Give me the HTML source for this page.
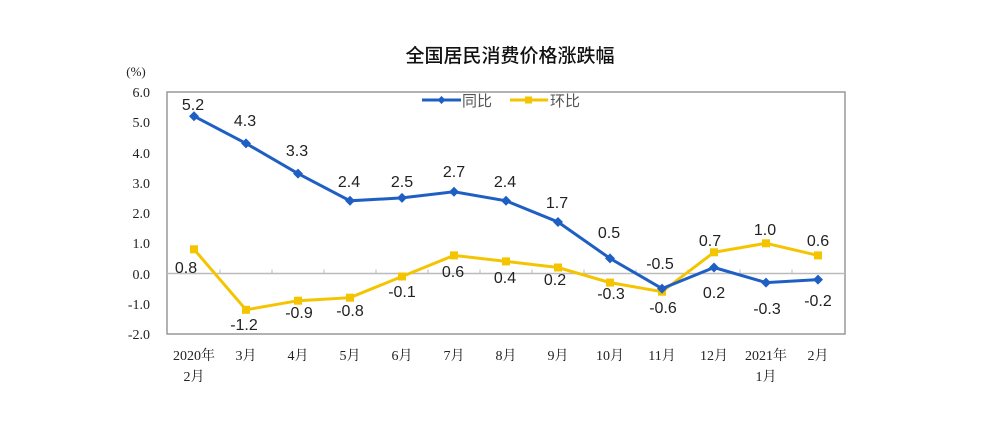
<!DOCTYPE html>
<html><head><meta charset="utf-8"><style>body{margin:0;background:#fff}</style></head><body>
<svg width="1000" height="433" xmlns="http://www.w3.org/2000/svg">
<text x="510" y="62" text-anchor="middle" font-family="Liberation Sans, Noto Sans CJK SC, sans-serif" font-size="19" font-weight="500" fill="#111">全国居民消费价格涨跌幅</text>
<text x="136" y="76" text-anchor="middle" font-family="Liberation Serif, Noto Serif CJK SC, serif" font-size="13" fill="#222">(%)</text>
<rect x="167" y="92" width="678" height="242" fill="none" stroke="#999" stroke-width="1.5"/>
<line x1="167" y1="273.5" x2="845" y2="273.5" stroke="#bbb" stroke-width="1.5"/>
<g stroke="#bbb" stroke-width="1"><line x1="220" y1="269.5" x2="220" y2="273.5"/><line x1="272" y1="269.5" x2="272" y2="273.5"/><line x1="324" y1="269.5" x2="324" y2="273.5"/><line x1="376" y1="269.5" x2="376" y2="273.5"/><line x1="428" y1="269.5" x2="428" y2="273.5"/><line x1="480" y1="269.5" x2="480" y2="273.5"/><line x1="532" y1="269.5" x2="532" y2="273.5"/><line x1="584" y1="269.5" x2="584" y2="273.5"/><line x1="636" y1="269.5" x2="636" y2="273.5"/><line x1="688" y1="269.5" x2="688" y2="273.5"/><line x1="740" y1="269.5" x2="740" y2="273.5"/><line x1="792" y1="269.5" x2="792" y2="273.5"/></g>
<g font-family="Liberation Serif, serif" font-size="14" fill="#222" text-anchor="end">
<text x="150" y="97">6.0</text><text x="150" y="127">5.0</text><text x="150" y="158">4.0</text><text x="150" y="188">3.0</text><text x="150" y="218">2.0</text><text x="150" y="248">1.0</text><text x="150" y="279">0.0</text><text x="150" y="309">-1.0</text><text x="150" y="339">-2.0</text>
</g>
<g font-family="Liberation Serif, Noto Serif CJK SC, serif" font-size="14" fill="#222" text-anchor="middle">
<text x="194" y="360">2020年</text><text x="194" y="381">2月</text>
<text x="246" y="360">3月</text><text x="298" y="360">4月</text><text x="350" y="360">5月</text><text x="402" y="360">6月</text><text x="454" y="360">7月</text><text x="506" y="360">8月</text><text x="558" y="360">9月</text><text x="610" y="360">10月</text><text x="662" y="360">11月</text><text x="714" y="360">12月</text>
<text x="766" y="360">2021年</text><text x="766" y="381">1月</text><text x="818" y="360">2月</text>
</g>
<line x1="422" y1="100" x2="461" y2="100" stroke="#1f5fc4" stroke-width="3"/><path d="M441.5 96l4 4-4 4-4-4z" fill="#1f5fc4"/>
<text x="462" y="106" font-family="Noto Sans CJK SC, sans-serif" font-size="15" fill="#555">同比</text>
<line x1="510" y1="100" x2="548" y2="100" stroke="#f5c400" stroke-width="3"/><rect x="525" y="96.5" width="7" height="7" fill="#f5c400"/>
<text x="550" y="106" font-family="Noto Sans CJK SC, sans-serif" font-size="15" fill="#555">环比</text>
<polyline fill="none" stroke="#f5c400" stroke-width="3" points="194,249.3 246,309.8 298,300.7 350,297.7 402,276.5 454,255.4 506,261.4 558,267.5 610,282.6 662,291.7 714,252.3 766,243.3 818,255.4"/>
<g fill="#f5c400">
<rect x="190" y="245.3" width="8" height="8"/><rect x="242" y="305.8" width="8" height="8"/><rect x="294" y="296.7" width="8" height="8"/><rect x="346" y="293.7" width="8" height="8"/><rect x="398" y="272.5" width="8" height="8"/><rect x="450" y="251.4" width="8" height="8"/><rect x="502" y="257.4" width="8" height="8"/><rect x="554" y="263.5" width="8" height="8"/><rect x="606" y="278.6" width="8" height="8"/><rect x="658" y="287.7" width="8" height="8"/><rect x="710" y="248.3" width="8" height="8"/><rect x="762" y="239.3" width="8" height="8"/><rect x="814" y="251.4" width="8" height="8"/>
</g>
<polyline fill="none" stroke="#1f5fc4" stroke-width="3" points="194,116.2 246,143.4 298,173.6 350,200.8 402,197.9 454,191.8 506,200.8 558,222 610,258.4 662,288.6 714,267.5 766,282.6 818,279.6"/>
<g fill="#1f5fc4">
<path d="M194 111.2l5 5-5 5-5-5z"/><path d="M246 138.4l5 5-5 5-5-5z"/><path d="M298 168.6l5 5-5 5-5-5z"/><path d="M350 195.8l5 5-5 5-5-5z"/><path d="M402 192.9l5 5-5 5-5-5z"/><path d="M454 186.8l5 5-5 5-5-5z"/><path d="M506 195.8l5 5-5 5-5-5z"/><path d="M558 217l5 5-5 5-5-5z"/><path d="M610 253.4l5 5-5 5-5-5z"/><path d="M662 283.6l5 5-5 5-5-5z"/><path d="M714 262.5l5 5-5 5-5-5z"/><path d="M766 277.6l5 5-5 5-5-5z"/><path d="M818 274.6l5 5-5 5-5-5z"/>
</g>
<g font-family="Liberation Sans, sans-serif" font-size="16" fill="#222" text-anchor="middle">
<text x="193" y="110">5.2</text><text x="245" y="126">4.3</text><text x="297" y="156">3.3</text><text x="349" y="187">2.4</text><text x="402" y="187">2.5</text><text x="454" y="177">2.7</text><text x="505" y="187">2.4</text><text x="557" y="208">1.7</text><text x="609" y="238">0.5</text><text x="660" y="269">-0.5</text><text x="714" y="298">0.2</text><text x="767" y="314">-0.3</text><text x="818" y="306">-0.2</text>
<text x="186" y="273">0.8</text><text x="244" y="330">-1.2</text><text x="299" y="318">-0.9</text><text x="350" y="316">-0.8</text><text x="402" y="297">-0.1</text><text x="453" y="277">0.6</text><text x="505" y="283">0.4</text><text x="555" y="285">0.2</text><text x="611" y="299">-0.3</text><text x="663" y="313">-0.6</text><text x="710" y="246">0.7</text><text x="765" y="235">1.0</text><text x="818" y="246">0.6</text>
</g>
</svg>
</body></html>
